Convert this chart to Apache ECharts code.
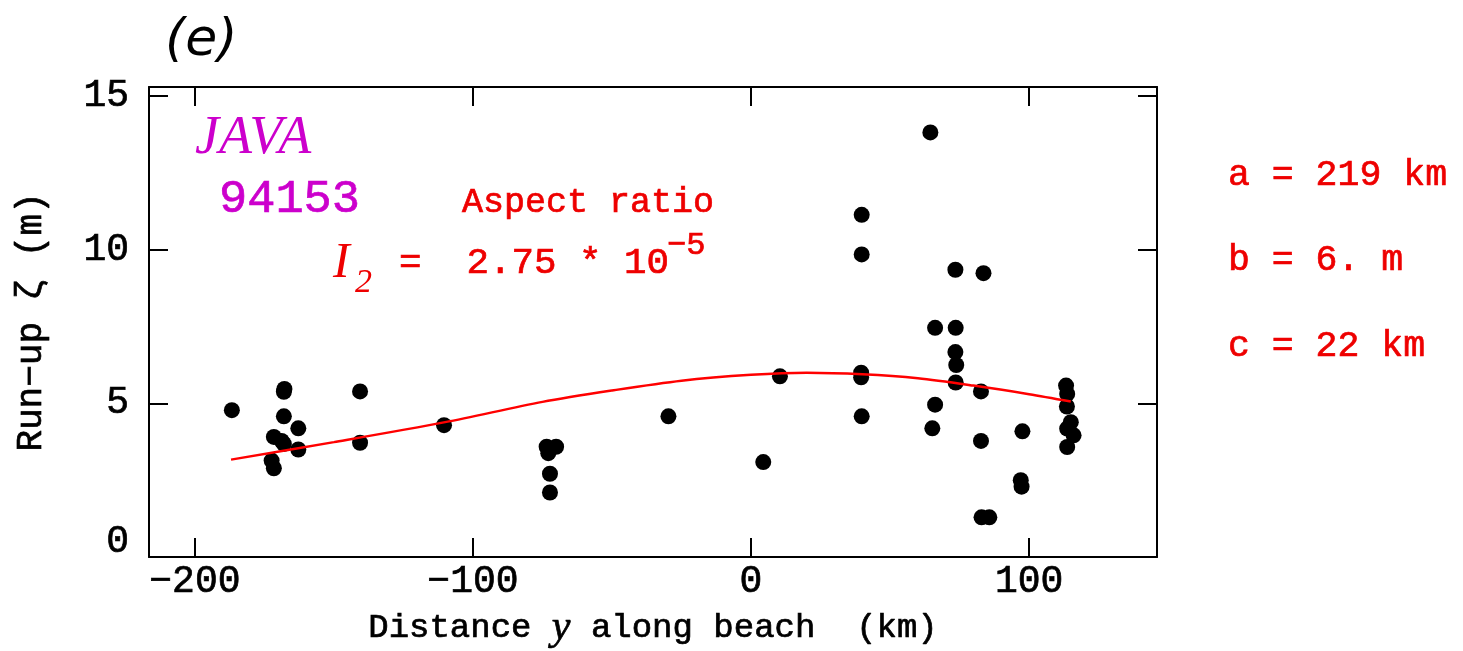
<!DOCTYPE html>
<html>
<head>
<meta charset="utf-8">
<script src="https://cdn.jsdelivr.net/npm/echarts@6/dist/echarts.min.js"></script>
<style>
html, body { margin: 0; padding: 0; background: #fff; }
#chart { width: 1463px; height: 651px; }
</style>
</head>
<body>
<div id="chart"></div>
<script>
// run-up measurements: distance along beach (km) and run-up (m)
const pointX = [-186.7, -167.8, -168, -168, -162.8, -171.6, -168.8, -168, -162.8, -172.4, -171.6,
  -140.6, -140.6, -110.4, -73.5, -70.1, -72.9, -72.3, -72.3, -29.7, 4.4, 10.4, 39.6, 39.6, 39.8,
  39.8, 39.8, 64.5, 66.2, 73.6, 73.5, 73.8, 73.6, 66.2, 65.2, 73.5, 83.6, 82.7, 82.7, 82.9, 85.7,
  97.6, 97.0, 97.3, 113.3, 113.7, 113.6, 115, 113.7, 116, 113.7]
const pointY = [4.78, 5.47, 5.38, 4.58, 4.19, 3.91, 3.78, 3.68, 3.5, 3.14, 2.89,
  5.39, 3.72, 4.29, 3.59, 3.59, 3.38, 2.71, 2.1, 4.58, 3.09, 5.88, 6.0, 5.85, 4.58,
  11.14, 9.85, 13.82, 7.46, 7.46, 6.67, 6.25, 5.68, 4.96, 4.19, 9.35, 9.24, 5.39, 3.78, 1.29, 1.29,
  4.09, 2.5, 2.29, 5.58, 5.31, 4.9, 4.39, 4.18, 3.96, 3.58]

// fitted profile
const curveX = [-187, -150, -110, -75, -50, -25, 0, 20, 40, 60, 80, 100, 115]
const curveY = [3.17, 3.74, 4.39, 5.05, 5.42, 5.74, 5.93, 6.0, 5.95, 5.82, 5.58, 5.3, 5.06]

const xTicks = [-200, -100, 0, 100]
const yTicks = [0, 5, 10, 15]

const mono = 'Liberation Mono'
const serif = 'Liberation Serif'
const red = '#ee0000'
const magenta = '#cc00cc'

const axisLine = { show: true, onZero: false, lineStyle: { color: '#000', width: 2 } }
const tickStyle = { color: '#000', width: 2 }

// a thin outline in the fill colour makes the mono glyphs a bit heavier
const label = (text, x, y, color, size, extra) => ({
  type: 'text', x: x, y: y,
  style: Object.assign({
    text: text, fill: color, fontFamily: mono, fontSize: size,
    stroke: color, lineWidth: 0.7,
    textVerticalAlign: 'middle', verticalAlign: 'middle'
  }, extra || {})
})

const options = {
  animation: false,
  backgroundColor: '#fff',
  grid: { left: 149, right: 306, top: 87, bottom: 94, containLabel: false, outerBoundsMode: 'none' },
  xAxis: [
    {
      type: 'value', position: 'bottom', min: -216.5, max: 146,
      axisLine: axisLine,
      axisTick: { inside: true, length: 19, customValues: xTicks, lineStyle: tickStyle },
      axisLabel: {
        customValues: xTicks, margin: 6, color: '#000', fontFamily: mono, fontSize: 38,
        textBorderColor: '#000', textBorderWidth: 0.7,
        formatter: v => String(v).replace('-', '\u2212')
      },
      splitLine: { show: false },
      name: 'Distance {y|y} along beach  (km)',
      nameLocation: 'middle', nameGap: 50,
      nameTextStyle: {
        color: '#000', fontFamily: mono, fontSize: 34,
        textBorderColor: '#000', textBorderWidth: 0.7,
        rich: { y: { fontFamily: serif, fontStyle: 'italic', fontSize: 42, color: '#000' } }
      }
    },
    {
      type: 'value', position: 'top', min: -216.5, max: 146,
      axisLine: axisLine,
      axisTick: { inside: true, length: 19, customValues: xTicks, lineStyle: tickStyle },
      axisLabel: { show: false },
      splitLine: { show: false }
    }
  ],
  yAxis: [
    {
      type: 'value', position: 'left', min: 0, max: 15.3,
      axisLine: axisLine,
      axisTick: { inside: true, length: 19, customValues: yTicks, lineStyle: tickStyle },
      axisLabel: {
        customValues: yTicks, margin: 20, color: '#000', fontFamily: mono, fontSize: 38,
        textBorderColor: '#000', textBorderWidth: 0.7,
        formatter: v => (v === 0 ? '{z|0}' : String(v)),
        rich: { z: { fontFamily: mono, fontSize: 38, color: '#000', textBorderColor: '#000', textBorderWidth: 0.7, padding: [0, 0, 30, 0] } }
      },
      splitLine: { show: false },
      name: 'Run\u2212up \u03b6 (m)',
      nameLocation: 'middle', nameGap: 100,
      nameTextStyle: { color: '#000', fontFamily: mono, fontSize: 36, textBorderColor: '#000', textBorderWidth: 0.7 }
    },
    {
      type: 'value', position: 'right', min: 0, max: 15.3,
      axisLine: axisLine,
      axisTick: { inside: true, length: 19, customValues: yTicks, lineStyle: tickStyle },
      axisLabel: { show: false },
      splitLine: { show: false }
    }
  ],
  graphic: [
    label('(e)', 165, 41, '#000', 52, { fontFamily: 'DejaVu Sans', fontStyle: 'italic', lineWidth: 0 }),
    label('JAVA', 195, 139, magenta, 54, { fontFamily: serif, fontStyle: 'italic', lineWidth: 0 }),
    label('94153', 219, 200, magenta, 47),
    label('Aspect ratio', 462, 203, red, 35),
    label('I', 333, 264, red, 50, { fontFamily: serif, fontStyle: 'italic', lineWidth: 0 }),
    label('2', 355, 283, red, 34, { fontFamily: serif, fontStyle: 'italic', lineWidth: 0 }),
    label('=  2.75 * 10', 399, 263, red, 37.5),
    label('\u22125', 667, 246, red, 32),
    label('a = 219 km', 1228, 175, red, 36.5),
    label('b = 6. m', 1228, 260, red, 36.5),
    label('c = 22 km', 1228, 346, red, 36.5)
  ],
  series: [
    {
      name: 'run-up',
      type: 'scatter',
      symbol: 'circle',
      symbolSize: 16,
      itemStyle: { color: '#000', opacity: 1 },
      data: pointX.map((x, i) => [x, pointY[i]]),
      z: 2
    },
    {
      name: 'profile',
      type: 'line',
      showSymbol: false,
      smooth: 0.3,
      lineStyle: { color: '#ff0000', width: 2.5 },
      data: curveX.map((x, i) => [x, curveY[i]]),
      z: 3
    }
  ]
}

let chart = null
const initChart = () => {
  const chart = echarts.init(document.getElementById('chart'))
  chart.setOption(options)
  return chart
}
chart = initChart()
window.addEventListener('resize', function () {
  chart && chart.resize()
})
</script>
</body>
</html>
